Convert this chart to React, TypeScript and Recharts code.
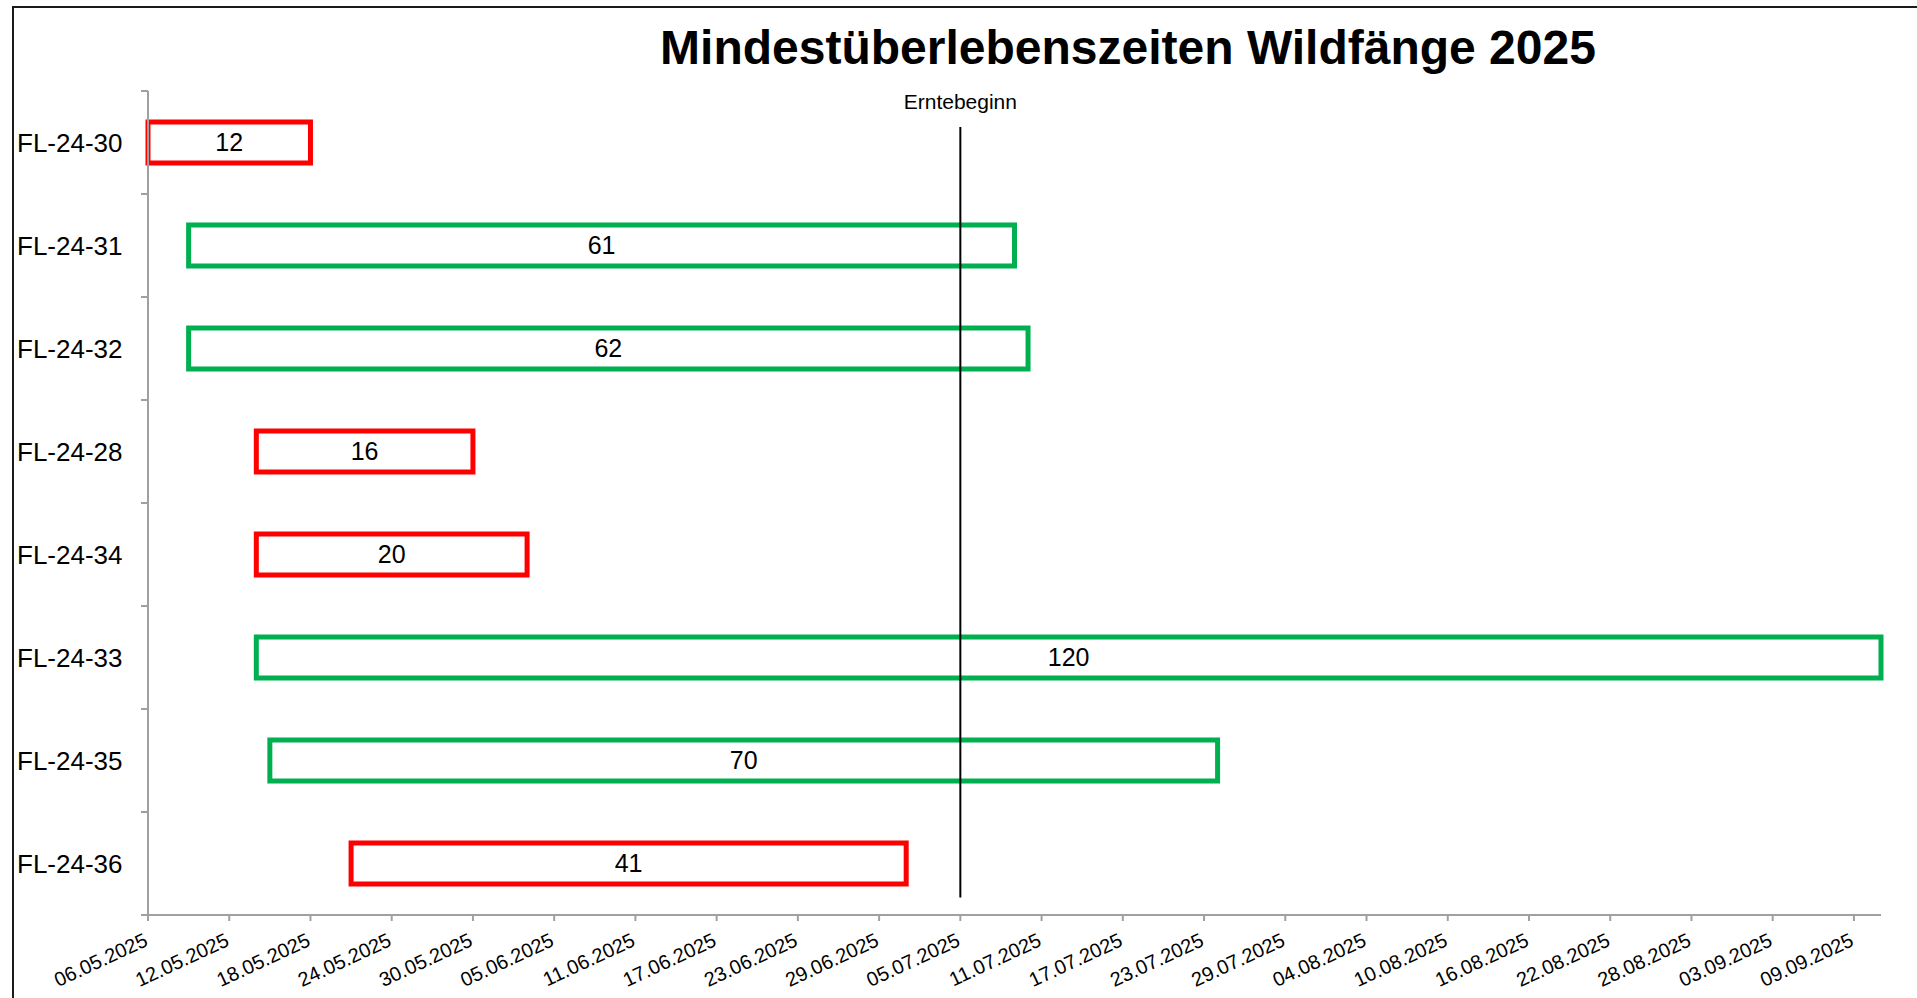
import React from 'react';
import {
    BarChart,
    Bar,
    XAxis,
    YAxis,
    Cell,
    LabelList,
    ReferenceLine,
    Label
} from 'recharts';

// Chargen, von oben nach unten
const categories = ['FL-24-30', 'FL-24-31', 'FL-24-32', 'FL-24-28', 'FL-24-34', 'FL-24-33', 'FL-24-35', 'FL-24-36'];
const startDates = ['06.05.2025', '09.05.2025', '09.05.2025', '14.05.2025', '14.05.2025', '14.05.2025', '15.05.2025', '21.05.2025'];
const survivalDays = [12, 61, 62, 16, 20, 120, 70, 41];

const harvestStart = '05.07.2025';
// vertical extent of the harvest marker, in category rows counted from the top
const harvestLineSpan = [0.35, 7.83];

const tickLabels = [
    '06.05.2025', '12.05.2025', '18.05.2025', '24.05.2025', '30.05.2025', '05.06.2025',
    '11.06.2025', '17.06.2025', '23.06.2025', '29.06.2025', '05.07.2025', '11.07.2025',
    '17.07.2025', '23.07.2025', '29.07.2025', '04.08.2025', '10.08.2025', '16.08.2025',
    '22.08.2025', '28.08.2025', '03.09.2025', '09.09.2025'
];

const FONT = '"Liberation Sans", Arial, sans-serif';
const AXIS_GREY = '#a0a0a0';
const RED = '#ff0000';
const GREEN = '#00b050';

const toDay = (s: string) => {
    const [d, m, y] = s.split('.').map(Number);
    return Date.UTC(y, m - 1, d) / 86400000;
};
const baseDay = toDay(tickLabels[0]);
const harvestDay = toDay(harvestStart) - baseDay;

const data = categories.map((name, i) => ({
    name,
    row: i + 0.5,
    offset: toDay(startDates[i]) - baseDay,
    duration: survivalDays[i]
}));

const xTicks = tickLabels.map(t => toDay(t) - baseDay);
const gridTicks = Array.from({ length: categories.length + 1 }, (_, i) => i);

const DateTick = (props: any) => {
    const { x, y, index } = props;
    return (
        <text
            x={x + 1}
            y={y + 22}
            transform={`rotate(-25, ${x + 1}, ${y + 22})`}
            textAnchor="end"
            fontFamily={FONT}
            fontSize={20}
            fill="#000"
        >
            {tickLabels[index]}
        </text>
    );
};

const CategoryTick = (props: any) => {
    const { y, payload } = props;
    return (
        <text x={17} y={y} dy="0.36em" textAnchor="start" fontFamily={FONT} fontSize={26} fill="#000">
            {payload.value}
        </text>
    );
};

const NoTick = () => <g />;

const App: React.FC = () => {
    return (
        <div style={{ position: 'absolute', left: 0, top: 0, width: 1917, height: 998, background: '#fff', overflow: 'hidden' }}>
            <div style={{
                position: 'absolute', left: 12, top: 6, width: 2000, height: 1100,
                borderLeft: '2px solid #1a1a1a', borderTop: '2px solid #1a1a1a'
            }} />
            <div style={{
                position: 'absolute', left: 1128, top: 24, transform: 'translateX(-50%)',
                fontFamily: FONT, fontWeight: 'bold', fontSize: 48, lineHeight: '48px', whiteSpace: 'nowrap'
            }}>
                Mindestüberlebenszeiten Wildfänge 2025
            </div>
            <div style={{ position: 'absolute', left: 0, top: 0 }}>
                <BarChart
                    width={1917}
                    height={998}
                    data={data}
                    layout="vertical"
                    margin={{ top: 91, right: 36, bottom: 3, left: 0 }}
                    barSize={41}
                >
                    <XAxis
                        type="number"
                        domain={[0, 'dataMax']}
                        ticks={xTicks}
                        interval={0}
                        tick={<DateTick />}
                        tickSize={6}
                        height={80}
                        axisLine={{ stroke: AXIS_GREY, strokeWidth: 2 }}
                        tickLine={{ stroke: AXIS_GREY, strokeWidth: 2 }}
                    />
                    <YAxis
                        yAxisId="b-cat"
                        type="category"
                        dataKey="name"
                        width={140}
                        interval={0}
                        axisLine={false}
                        tickLine={false}
                        tick={<CategoryTick />}
                    />
                    <YAxis
                        yAxisId="a-grid"
                        type="number"
                        dataKey="row"
                        domain={[0, categories.length]}
                        ticks={gridTicks}
                        interval={0}
                        allowDataOverflow
                        width={8}
                        tickSize={7}
                        tick={<NoTick />}
                        axisLine={{ stroke: AXIS_GREY, strokeWidth: 2 }}
                        tickLine={{ stroke: AXIS_GREY, strokeWidth: 2 }}
                    />
                    <Bar dataKey="offset" stackId="s" yAxisId="b-cat" fill="transparent" isAnimationActive={false} />
                    <Bar dataKey="duration" stackId="s" yAxisId="b-cat" isAnimationActive={false}>
                        {data.map((d, i) => (
                            <Cell
                                key={`cell-${i}`}
                                fill="#ffffff"
                                stroke={d.offset + d.duration > harvestDay ? GREEN : RED}
                                strokeWidth={5}
                            />
                        ))}
                        <LabelList
                            dataKey="duration"
                            position="center"
                            fill="#000"
                            stroke="none"
                            fontFamily={FONT}
                            fontSize={25}
                        />
                    </Bar>
                    <ReferenceLine
                        yAxisId="a-grid"
                        segment={[
                            { x: harvestDay, y: harvestLineSpan[0] },
                            { x: harvestDay, y: harvestLineSpan[1] }
                        ]}
                        stroke="#000"
                        strokeWidth={2}
                        ifOverflow="visible"
                    >
                        <Label value="Erntebeginn" position="top" offset={18} fontFamily={FONT} fontSize={21} fill="#000" />
                    </ReferenceLine>
                </BarChart>
            </div>
        </div>
    );
};

export default App;
